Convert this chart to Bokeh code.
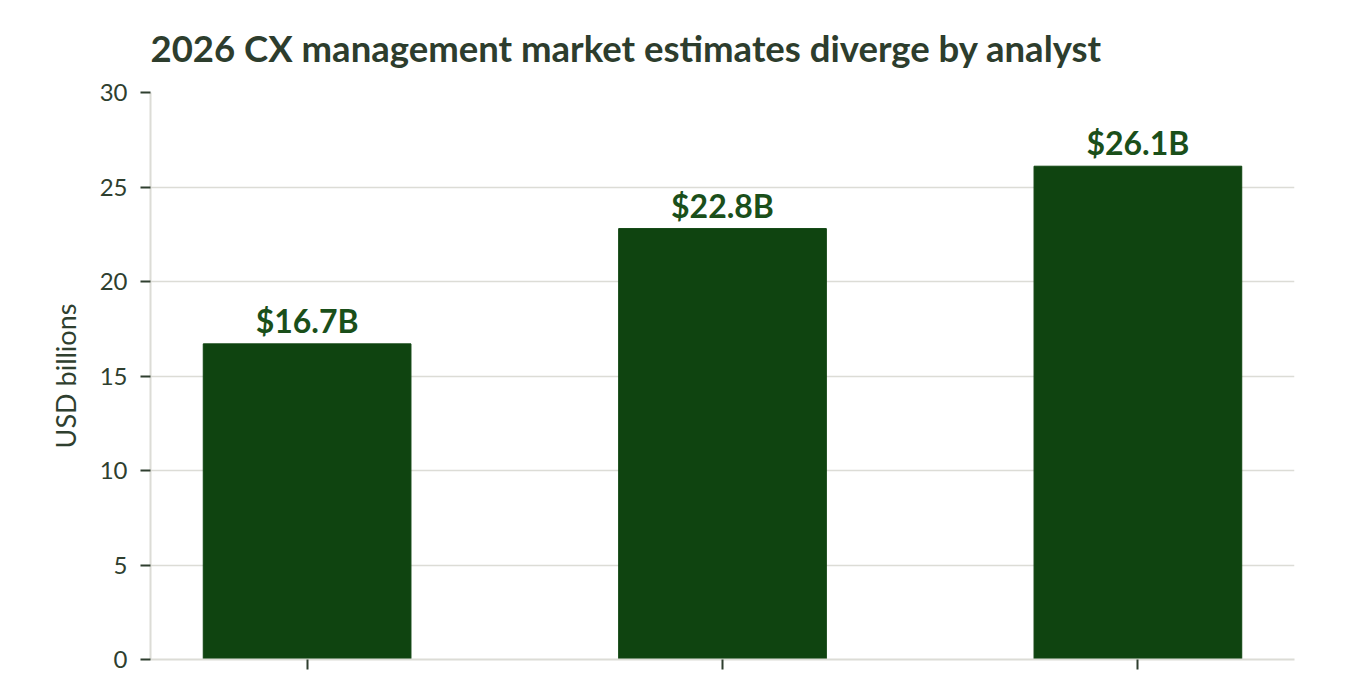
from bokeh.core.properties import value
from bokeh.embed import file_html
from bokeh.models import ColumnDataSource, FixedTicker, LabelSet, Range1d
from bokeh.plotting import figure
from bokeh.resources import INLINE

# analyst names are not visible in the reference (cropped below the axis)
analysts = ["Analyst A", "Analyst B", "Analyst C"]
estimates = [16.7, 22.8, 26.1]
labels = ["$16.7B", "$22.8B", "$26.1B"]

BAR = "#0f4410"
TEXT = "#2f3f2f"
GRID = "#dcdcd6"

pos = list(range(len(analysts)))
source = ColumnDataSource(dict(x=pos, analyst=analysts, value=estimates, label=labels))

p = figure(
    x_range=Range1d(-0.377, len(analysts) - 1 + 0.377),
    y_range=(0, 30),
    frame_width=1144,
    frame_height=567,
    min_border_left=150,
    min_border_right=52,
    min_border_top=90,
    min_border_bottom=16,
    title="2026 CX management market estimates diverge by analyst",
    output_backend="svg",
    toolbar_location=None,
)

p.vbar(x="x", top="value", width=0.5, source=source, color=BAR)

p.add_layout(
    LabelSet(
        x="x",
        y="value",
        text="label",
        source=source,
        text_align="center",
        text_baseline="bottom",
        y_offset=4,
        text_font=value("Lato"),
        text_font_style="bold",
        text_font_size="32px",
        text_color="#1a4f1a",
    )
)

p.title.text_font = "Lato"
p.title.text_font_size = "36.5px"
p.title.text_color = "#2d3d2d"
p.title.text_font_style = "bold"
p.title.standoff = 46

p.yaxis.axis_label = "USD billions"
p.yaxis.axis_label_text_font = "Lato"
p.yaxis.axis_label_text_font_size = "27px"
p.yaxis.axis_label_text_font_style = "normal"
p.yaxis.axis_label_text_color = TEXT
p.yaxis.axis_label_standoff = 15
p.yaxis.ticker = [0, 5, 10, 15, 20, 25, 30]
p.yaxis.major_label_standoff = 13

p.xaxis.ticker = FixedTicker(ticks=pos)
p.xaxis.major_label_overrides = {i: "" for i in pos}

for ax in (p.xaxis, p.yaxis):
    ax.major_label_text_font = "Lato"
    ax.major_label_text_font_size = "24px"
    ax.major_label_text_color = TEXT
    ax.axis_line_color = GRID
    ax.axis_line_width = 2
    ax.major_tick_line_color = TEXT
    ax.major_tick_line_width = 2
    ax.major_tick_in = 0
    ax.major_tick_out = 10
    ax.minor_tick_line_color = None

p.xgrid.grid_line_color = None
p.ygrid.grid_line_color = GRID
p.ygrid.grid_line_width = 1.5
p.outline_line_color = None

open("out.html", "w").write(file_html(p, INLINE))
